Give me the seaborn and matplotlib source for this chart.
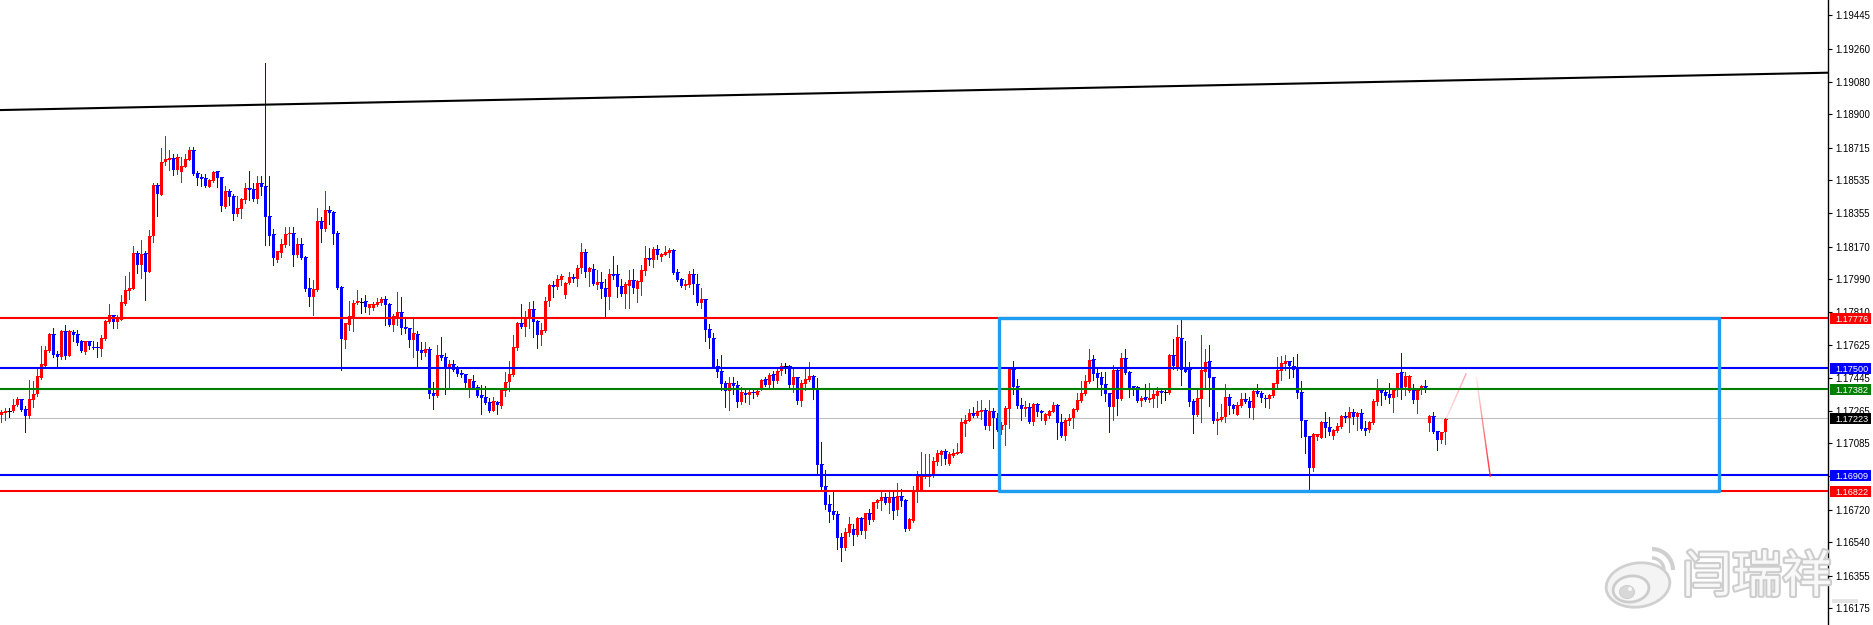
import numpy as np
import seaborn as sns
import matplotlib
matplotlib.use("Agg")
import matplotlib.pyplot as plt
import matplotlib.patheffects as pe
from matplotlib.patches import Rectangle, Ellipse, Arc
from matplotlib.collections import LineCollection
from matplotlib.transforms import blended_transform_factory, Affine2D

# All candle values are points (0.00001) above 1.17000.
direction_a = "uuxuuddu" + "uu" + "uuuddududd" + "duddduuudu" + "uuuududuud" + "uuuduuuudd" + "dduudduddu" + "uuddudddd" + "u" + "uuududddu" + "u" + "dudddduuuu" + "xduuuudduu" + "ddduddudd" + "u" + "ddudddd" + "udd" + "dddud"
direction_b = "uuuuuduudd" + "uuuduuuudu" + "udududdudd" + "duuduuudud" + "uuuddduudd" + "uddddddudd" + "ududuududu" + "uxduduuudd" + "dddddduudu" + "duduuududu" + "dduuuuuuuu" + "uduuuuuudu" + "ududd"
direction_c = "uuudddudud" + "duuudduuuu" + "uuudddddud" + "udddduduuu" + "dxududdddu" + "uudduuuddu" + "udduddduuu" + "uu" + "dddddd" + "uu" + "udduuududu" + "dduuuddduu" + "duuduududd" + "uu"

body_top_a = [256,261,261,298,327,327,272,327,359,454,520,598,686,686,576,702,702,702,697,686,647,647,647,618,614,664,759,791,791,778,862,928,941,1132,1132,1127,1132,1228,1509,1509,1634,1651,1656,1656,1664,1612,1651,1700,1700,1574,1552,1546,1535,1579,1585,1552,1474,1474,1447,1381,1430,1491,1491,1485,1518,1518,1502,1337,1237,1144,1182,1237,1243,1243,1182,1182,1110,940,934,1309,1309,1370,1370,1359,1243,945,747,785,857,868,862,868,851,851,862,879,879,851,785,807,807,724,719,691,686,598,603,603,361,570,570,559,520,520,498,471,465,438,427,394,349,338,311,316,311]
body_top_b = [379,423,467,616,748,748,782,826,826,759,710,870,958,958,991,1008,969,1002,1002,1052,1140,1140,1052,1046,974,974,941,1019,1019,1019,952,963,985,985,980,1041,1107,1107,1156,1156,1129,1140,1151,1151,1030,991,963,1019,1019,963,881,881,715,666,511,484,418,418,418,407,368,362,368,368,373,434,440,462,467,484,511,511,511,451,451,418,440,456,456,385,-29,-150,-250,-288,-305,-431,-404,-360,-387,-327,-327,-299,-299,-238,-227,-211,-211,-211,-211,-205,-205,-227,-332,-178,-95,-95,-95,-84,-13,32,43,43,26,32,37,203,214,252,252,263,269,269,263,263,225]
body_top_c = [186,280,493,493,401,296,285,285,302,302,263,247,263,296,296,203,214,225,274,324,362,429,544,550,473,451,412,362,489,489,555,555,478,401,396,335,340,335,357,373,373,368,572,572,671,666,495,495,318,335,489,533,539,451,219,230,340,340,296,296,329,329,318,373,373,362,335,351,418,489,528,539,539,511,500,368,214,125,136,136,203,203,175,158,180,236,236,258,258,252,252,169,203,318,379,379,368,357,379,473,478,456,456,379,379,401,401,236,236,153,147,219]

body_bottom_a = [241,250,261,261,294,267,234,234,322,355,445,511,592,570,561,561,565,566,680,638,592,588,620,611,611,605,660,754,754,754,767,855,925,936,1070,1066,1030,1030,1228,1460,1456,1634,1645,1590,1590,1581,1607,1645,1568,1546,1541,1506,1500,1530,1546,1392,1386,1441,1348,1348,1375,1425,1480,1430,1430,1496,1331,1226,1105,1094,1133,1177,1237,1121,1121,1105,934,890,890,929,1265,1265,1353,1237,940,658,653,735,774,857,862,835,829,829,846,857,846,735,735,774,719,713,653,653,592,581,581,355,344,344,554,493,498,487,465,460,416,388,388,344,333,305,261,261,294]
body_bottom_b = [291,373,423,462,611,726,726,776,754,682,682,704,870,947,947,986,903,969,991,991,1052,1030,1030,963,958,936,892,892,1008,947,908,908,952,941,936,974,1035,1096,1096,1123,1112,1123,1134,1024,986,952,952,958,963,859,859,710,666,500,478,412,373,373,401,313,313,351,351,362,351,385,407,407,429,429,484,511,407,407,318,318,412,434,379,-35,-156,-255,-294,-310,-437,-492,-492,-409,-420,-420,-398,-398,-338,-338,-244,-233,-244,-244,-288,-283,-233,-387,-387,-343,-178,-172,-101,-101,-90,-18,21,-1,-29,15,26,32,191,208,236,236,258,181,181,225,158]
body_bottom_c = [158,186,276,394,291,274,274,203,203,258,252,208,236,258,197,125,125,208,225,267,318,355,423,467,445,406,357,285,285,329,329,473,390,379,318,318,324,324,329,346,362,368,362,511,495,489,478,313,241,241,329,478,445,208,208,214,230,291,274,241,291,313,280,280,357,335,329,329,346,412,484,522,511,489,362,208,120,-51,-51,120,114,169,147,125,153,175,225,225,230,230,164,153,158,197,313,362,346,335,335,379,379,396,373,324,324,379,379,197,147,103,103,147]

high_a = [267,281,281,331,340,331,289,432,427,497,620,620,695,723,592,708,735,708,712,712,653,647,647,647,644,680,763,855,791,791,901,1006,1028,1171,1144,1204,1144,1259,1522,1522,1713,1778,1700,1678,1678,1664,1678,1722,1722,1585,1568,1568,1541,1585,1585,1552,1502,1485,1458,1447,1436,1518,1585,1518,1557,1557,2180,1557,1265,1144,1210,1276,1276,1276,1215,1215,1116,995,984,1381,1331,1474,1392,1364,1254,951,747,868,873,928,884,901,851,862,884,890,895,857,796,917,890,769,719,776,703,642,642,614,421,625,669,581,543,543,509,487,465,438,460,405,405,399,333,338,316]
high_b = [379,478,539,682,754,853,815,864,870,765,748,892,963,980,1013,1019,974,1030,1019,1068,1190,1156,1057,1074,1041,1030,991,1046,1118,1068,991,974,1041,1046,986,1068,1173,1162,1168,1179,1134,1173,1162,1156,1046,997,986,1035,1046,1019,941,881,743,693,550,572,429,451,451,429,396,379,379,379,390,440,451,473,484,506,528,528,517,500,451,434,500,533,462,445,92,-62,-200,-178,-288,-409,-382,-321,-360,-321,-321,-299,-277,-238,-222,-183,-189,-178,-178,-134,-167,-222,-327,-150,-68,37,26,26,10,48,48,54,37,54,87,225,241,274,285,318,324,280,324,280,252]
high_c = [203,291,498,539,440,335,318,307,307,307,269,252,269,313,302,247,225,247,280,362,429,462,605,572,495,478,478,362,517,495,583,605,484,401,401,346,412,418,390,396,385,379,577,660,737,765,649,533,329,390,682,605,627,451,258,302,412,357,302,313,362,362,340,379,412,373,351,357,418,561,566,572,539,561,577,429,214,125,142,136,208,258,230,164,197,241,258,285,274,258,274,208,208,329,440,390,390,418,390,473,583,478,462,412,390,407,434,241,258,153,147,225]

low_a = [203,212,230,258,289,263,147,225,285,344,441,506,588,561,498,548,552,565,649,625,587,577,605,607,561,565,656,748,723,723,763,846,883,934,1024,997,873,1030,1195,1337,1452,1618,1594,1563,1568,1524,1607,1645,1563,1507,1502,1496,1496,1524,1496,1364,1381,1397,1315,1337,1326,1408,1425,1419,1408,1452,1177,1177,1066,1083,1110,1166,1177,1061,1110,1099,923,840,791,923,1193,1254,1292,1182,934,487,609,708,703,851,802,807,796,818,840,846,735,730,703,735,686,691,614,559,498,548,565,333,272,338,543,355,394,482,454,449,394,338,383,338,245,300,256,261,245]
low_b = [280,346,373,456,600,721,677,721,671,611,627,699,842,892,936,958,886,963,975,952,1024,1002,952,958,936,886,781,826,991,892,897,831,831,914,864,903,1013,1068,1057,1101,1090,1123,1112,1019,980,947,936,947,908,848,831,649,611,500,451,379,285,269,357,285,302,313,302,335,346,379,401,390,390,418,462,473,390,368,302,291,379,429,329,-90,-172,-277,-349,-332,-498,-564,-503,-426,-476,-426,-415,-437,-360,-343,-272,-283,-250,-299,-332,-310,-260,-398,-393,-349,-238,-178,-106,-150,-101,-35,-35,-29,-35,10,26,32,125,208,230,230,219,164,158,59,153]
low_c = [136,76,169,357,280,214,236,197,186,236,214,191,225,258,109,120,103,186,169,263,313,351,418,434,390,351,318,147,214,241,324,467,340,351,313,291,318,313,285,285,307,324,357,495,489,407,478,291,142,236,203,396,291,197,136,208,203,247,252,241,285,307,230,219,346,313,285,280,340,390,434,489,445,451,335,120,32,-167,-68,103,114,120,131,109,147,169,203,147,191,158,158,131,147,191,296,296,329,307,258,346,329,351,368,307,252,357,368,153,142,48,87,81]

tick_labels = ["1.19445","1.19260","1.19080","1.18900","1.18715","1.18535","1.18355","1.18170","1.17990","1.17810",
               "1.17625","1.17445","1.17265","1.17085","1.16905","1.16720","1.16540","1.16355","1.16175"]
level_values = [1.17776, 1.17500, 1.17382, 1.17223, 1.16909, 1.16822]
level_colors = ["#ff0000", "#0000ff", "#008000", "#000000", "#0000ff", "#ff0000"]
trend_bar = [-0.375, 456.625]
trend_price = [1.18923, 1.19129]
box_bars = [249.4, 429.4]
box_prices = [1.16822, 1.17776]
forecast_up_bars = [361.2, 366.2]
forecast_up_prices = [1.17223, 1.17471]
forecast_down_bars = [368.7, 372.2]
forecast_down_prices = [1.17452, 1.16901]

for name, parts in {
    "dir": (direction_a, direction_b, direction_c), "top": (body_top_a, body_top_b, body_top_c),
    "bot": (body_bottom_a, body_bottom_b, body_bottom_c), "hi": (high_a, high_b, high_c), "lo": (low_a, low_b, low_c)}.items():
    if [len(p) for p in parts] != [125, 125, 112]:
        raise ValueError(f"{name} lengths {[len(p) for p in parts]}")

direction = np.array(list(direction_a + direction_b + direction_c))
to_price = lambda *parts: 1.17 + np.concatenate(parts) / 1e5
body_top = to_price(body_top_a, body_top_b, body_top_c)
body_bottom = to_price(body_bottom_a, body_bottom_b, body_bottom_c)
high = to_price(high_a, high_b, high_c)
low = to_price(low_a, low_b, low_c)
bars = np.arange(len(direction))

sns.set_theme(style="white")
plt.rcParams["font.family"] = ["Liberation Sans", "DejaVu Sans"]
W, H = 1874, 625
fig = plt.figure(figsize=(W / 100, H / 100), dpi=100, facecolor="white")
ax = fig.add_axes([0, 0, 1828 / W, 1])
ax.set_xlim(-0.375, 456.625)
ax.set_ylim(1.16083, 1.19530)
ax.set_xticks([])

palette = {"u": "#ff0000", "d": "#0000ff", "x": "#000000"}
for key, col in palette.items():
    m = direction == key
    ax.vlines(bars[m], low[m], high[m], color=col, lw=0.72, antialiased=False, zorder=3)
    ax.hlines(body_top[m], bars[m] - 0.375, bars[m] + 0.375, color=col, lw=0.72, antialiased=False, zorder=3)
    if key != "x":
        ax.bar(bars[m], (body_top - body_bottom)[m], bottom=body_bottom[m], width=0.75,
               color=col, linewidth=0, antialiased=False, zorder=3)

# horizontal levels
for val, col in zip(level_values, level_colors):
    if val == 1.17223:
        ax.axhline(val, color="#c0c0c0", lw=0.8, zorder=2)
    else:
        ax.axhline(val, color=col, lw=1.5, zorder=4)

sns.lineplot(x=trend_bar, y=trend_price, color="black", lw=1.5, ax=ax, zorder=4, estimator=None, sort=False)

# range box
ax.add_patch(Rectangle((box_bars[0], box_prices[0]), box_bars[1] - box_bars[0], box_prices[1] - box_prices[0],
                       fill=False, ec="#1e9ef0", lw=2.4, zorder=5, joinstyle="round"))

# fading forecast strokes
def fading(xs, ys, a0, a1):
    t = np.linspace(0, 1, 25)
    px_ = xs[0] + (xs[1] - xs[0]) * t
    py_ = ys[0] + (ys[1] - ys[0]) * t
    segs = [[(px_[k], py_[k]), (px_[k + 1], py_[k + 1])] for k in range(24)]
    cols = [(1, 0.1, 0.15, a0 + (a1 - a0) * k / 23) for k in range(24)]
    ax.add_collection(LineCollection(segs, colors=cols, linewidths=1.0, zorder=5))

fading(forecast_up_bars, forecast_up_prices, 0.12, 0.4)
fading(forecast_down_bars, forecast_down_prices, 0.1, 0.95)

# axis
for s in ["top", "left", "bottom"]:
    ax.spines[s].set_visible(False)
ax.spines["right"].set_visible(True)
ax.spines["right"].set_color("black")
ax.spines["right"].set_linewidth(1.0)
ax.yaxis.tick_right()
ax.set_yticks([float(t) for t in tick_labels])
ax.set_yticklabels(tick_labels, fontsize=6.9, color="black")
ax.tick_params(axis="y", direction="out", length=3, width=0.8, color="black", pad=2.5, right=True, labelright=True)

# price tags
px = lambda v: v / 1828
tr = blended_transform_factory(ax.transAxes, ax.transData)
for val, col in zip(level_values, level_colors):
    ax.add_patch(Rectangle((px(1830), val - 5.5 / 18135), px(41.5), 11 / 18135, transform=tr,
                           fc=col, ec="none", clip_on=False, zorder=10))
    ax.text(px(1835), val, f"{val:.5f}", transform=tr, color="white", fontsize=6.6, va="center_baseline", ha="left",
            clip_on=False, zorder=11)

# watermark
disp = Affine2D().scale(1, -1).translate(0, H)
wm_fx = [pe.withStroke(linewidth=3, foreground="#cdcdcd")]
fig.text(1682 / W, 1 - 578 / H, "闫瑞祥", family=["Noto Sans CJK SC", "DejaVu Sans"], fontsize=36,
         color="#f8f8f8", va="center", ha="left", path_effects=wm_fx, zorder=20)
for art in [
    Ellipse((1638, 585), 64, 44, angle=-8, fc="#f4f4f4", ec="#d0d0d0", lw=2),
    Ellipse((1631, 589), 36, 26, angle=-8, fc="#f8f8f8", ec="#cccccc", lw=2),
    Ellipse((1627, 592), 15, 13, fc="#d8d8d8", ec="#cfcfcf", lw=0.8),
    Ellipse((1630, 589), 4, 4, fc="#f8f8f8", ec="none"),
    Arc((1652, 570), 42, 42, theta1=-90, theta2=0, ec="#d0d0d0", lw=3),
    Arc((1652, 570), 24, 24, theta1=-90, theta2=0, ec="#d0d0d0", lw=2.4),
    Rectangle((1832, 599), 26, 4, fc="#e4e4e4", ec="none"),
]:
    art.set_transform(disp)
    art.set_zorder(20)
    fig.add_artist(art)

fig.savefig("out.png", dpi=100)
